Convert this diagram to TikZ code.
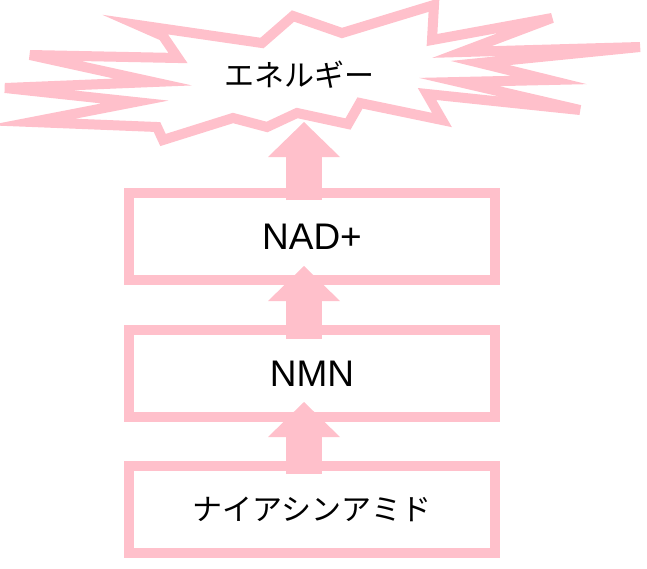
\documentclass[tikz,border=0pt]{standalone}
\usepackage{fontspec}
\setmainfont{Liberation Sans}
\newfontfamily\jpfont{Noto Sans CJK JP}
\usepackage{tikz}
\usetikzlibrary{arrows.meta, positioning, calc}
\definecolor{boxpink}{RGB}{255,192,203}

\begin{document}
\begin{tikzpicture}[x=1pt, y=-1pt,
  stage/.style={rectangle, draw=boxpink, line width=10pt, fill=white,
                minimum width=366pt, minimum height=87pt, inner sep=0pt},
  latin/.style={font=\fontsize{37}{40}\selectfont},
  jp/.style={font=\jpfont\fontsize{30}{34}\selectfont},
  fat/.style={boxpink, line width=36pt,
              -{Triangle[length=35pt, width=72pt, line width=0pt]}}
]
\useasboundingbox (0,0) rectangle (647,568);

\draw[boxpink, line width=10pt, line join=miter, fill=white]
  (138,25) -- (262,43) -- (293,16) -- (342,33) -- (434,5) -- (432,40)
  -- (552,18) -- (462,52) -- (640,47) -- (480,63) -- (549,80) -- (459,82)
  -- (580,110) -- (427,94) -- (442,120) -- (360,103) -- (348,124)
  -- (297,113) -- (267,127) -- (233,118) -- (163,140) -- (157,127)
  -- (32,122) -- (135,102) -- (5,88) -- (153,82) -- (30,55) -- (178,58)
  -- (163,36) -- cycle;
\node[jp] (energy) at (299,75) {エネルギー};
\coordinate (burst) at (304,122);

\node[stage, latin] (nad)    at (312,236.5) {NAD+};
\node[stage, latin] (nmn)    at (312,373.5) {NMN};
\node[stage, jp]    (niacin) at (312,509.5) {ナイアシンアミド};

\draw[fat] ($(niacin.north)+(-8,13)$) -- ($(nmn.south)+(-8,-20)$);
\draw[fat] ($(nmn.north)+(-8,14)$)    -- ($(nad.south)+(-8,-19)$);
\draw[fat] ($(nad.north)+(-8,12)$)    -- (burst);
\end{tikzpicture}
\end{document}
